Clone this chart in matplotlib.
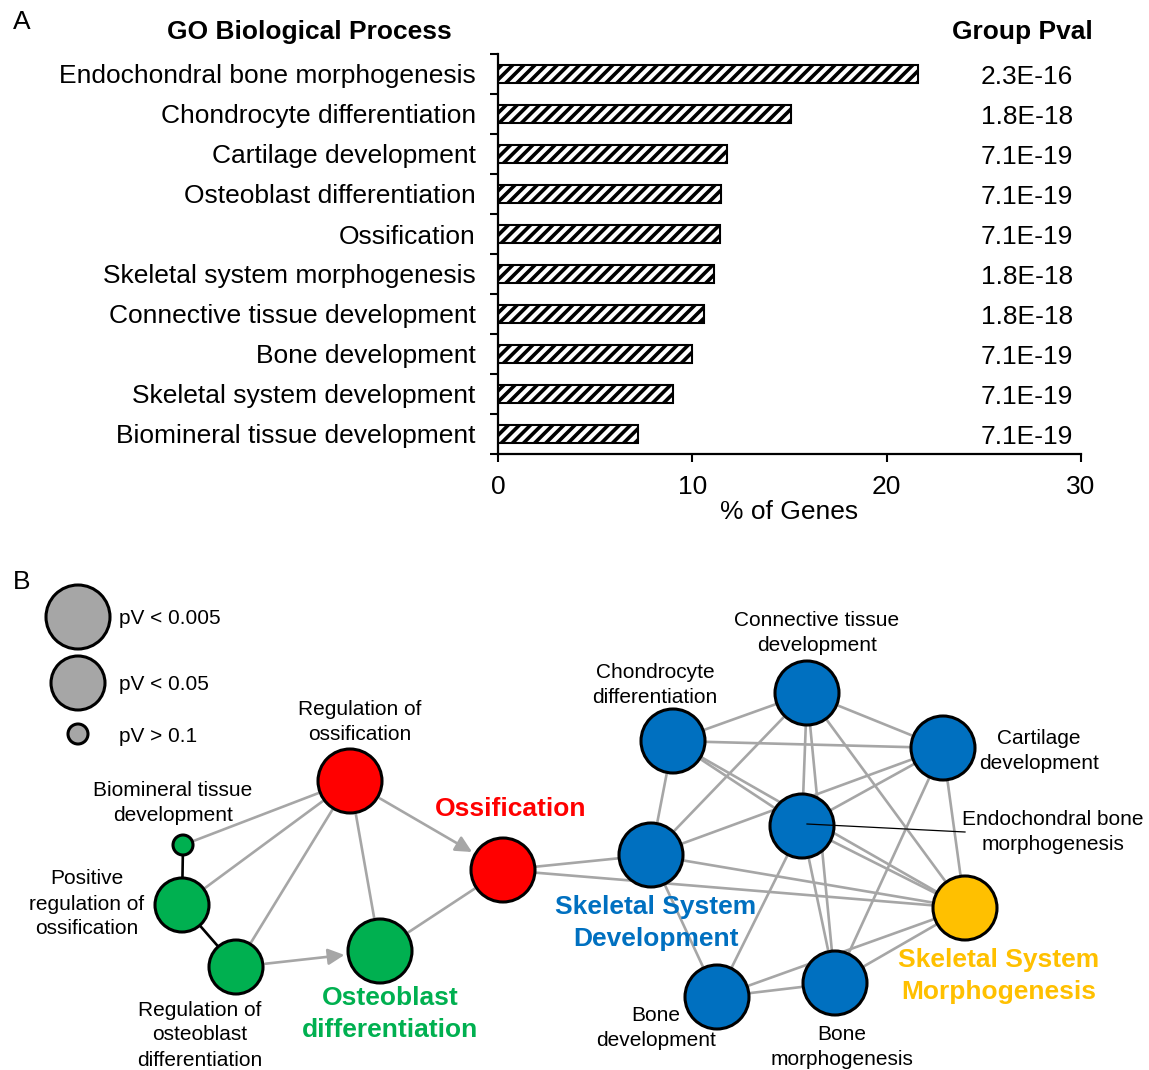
"""GO enrichment bar chart and term network for skeletal development genes"""
import numpy as np
import matplotlib
matplotlib.use('Agg')
import matplotlib.pyplot as plt
from matplotlib.patches import Circle, FancyArrowPatch

plt.rcParams['font.family'] = ['Liberation Sans', 'DejaVu Sans']
plt.rcParams['hatch.linewidth'] = 2.6

# Panel A: enriched GO biological process terms
terms = ["Endochondral bone morphogenesis", "Chondrocyte differentiation",
         "Cartilage development", "Osteoblast differentiation", "Ossification",
         "Skeletal system morphogenesis", "Connective tissue development",
         "Bone development", "Skeletal system development",
         "Biomineral tissue development"]
pct_genes = [21.6, 15.1, 11.8, 11.5, 11.4, 11.1, 10.6, 10.0, 9.0, 7.2]
group_pval = ["2.3E-16", "1.8E-18", "7.1E-19", "7.1E-19", "7.1E-19",
              "1.8E-18", "1.8E-18", "7.1E-19", "7.1E-19", "7.1E-19"]
xticks = [0, 10, 20, 30]

# Panel B: term network (node -> group colour / pV class)
nodes = ["biomineral", "pos_reg_oss", "reg_osteo_diff", "reg_oss",
         "osteo_diff", "ossification", "chondro", "connective", "cartilage",
         "endochondral", "skel_dev", "skel_morph", "bone_dev", "bone_morph"]
node_group = ["green", "green", "green", "red", "green", "red", "blue", "blue",
              "blue", "blue", "blue", "yellow", "blue", "blue"]
node_pclass = [2, 1, 1, 0, 0, 0, 0, 0, 0, 0, 0, 0, 0, 0]
edges = [("biomineral", "reg_oss"), ("pos_reg_oss", "reg_oss"),
         ("reg_osteo_diff", "reg_oss"), ("reg_oss", "osteo_diff"),
         ("osteo_diff", "ossification"), ("ossification", "skel_dev"),
         ("ossification", "skel_morph"),
         ("chondro", "connective"), ("chondro", "cartilage"),
         ("chondro", "endochondral"), ("chondro", "skel_dev"),
         ("chondro", "skel_morph"), ("connective", "skel_dev"),
         ("connective", "endochondral"), ("connective", "cartilage"),
         ("connective", "skel_morph"), ("connective", "bone_morph"),
         ("cartilage", "endochondral"), ("cartilage", "skel_dev"),
         ("cartilage", "bone_morph"), ("cartilage", "skel_morph"),
         ("endochondral", "skel_morph"), ("endochondral", "bone_dev"),
         ("endochondral", "bone_morph"), ("skel_dev", "skel_morph"),
         ("skel_dev", "bone_dev"), ("bone_dev", "bone_morph"),
         ("bone_dev", "skel_morph"), ("bone_morph", "skel_morph")]
strong_edges = [("biomineral", "pos_reg_oss"), ("pos_reg_oss", "reg_osteo_diff")]
directed_edges = [("reg_oss", "ossification"), ("reg_osteo_diff", "osteo_diff")]
legend_labels = ["pV < 0.005", "pV < 0.05", "pV > 0.1"]

# layout of the network in figure pixels (y downwards)
node_xy = {"biomineral": (183, 845), "pos_reg_oss": (182, 905),
           "reg_osteo_diff": (236, 967), "reg_oss": (350, 781),
           "osteo_diff": (380, 951), "ossification": (503, 870),
           "chondro": (673, 741), "connective": (807, 693),
           "cartilage": (943, 748), "endochondral": (802, 826),
           "skel_dev": (651, 855), "skel_morph": (965, 908),
           "bone_dev": (717, 997), "bone_morph": (835, 983)}
radius = [32, 27, 10]
colors = {"green": "#00B050", "red": "#FF0000", "blue": "#0070C0",
          "yellow": "#FFC000"}
edge_grey = "#A6A6A6"

W, H = 1149, 1070
fig = plt.figure(figsize=(W / 100, H / 100), dpi=100)

# overlay axes in pixel units for the network and free text
net = fig.add_axes([0, 0, 1, 1])
net.set_xlim(0, W)
net.set_ylim(H, 0)
net.axis('off')

# ---- panel A ----
ax = fig.add_axes([498 / W, 1 - 454 / H, 583 / W, 400 / H])
ypos = np.arange(len(terms))
ax.barh(ypos, pct_genes, height=0.44, color='white', edgecolor='black',
        hatch='///', linewidth=1.5)
ax.set_xlim(0, 30)
ax.set_ylim(len(terms) - 0.5, -0.5)
ax.set_xticks(xticks)
ax.set_yticks(ypos)
ax.set_yticklabels(terms, fontsize=19)
ax.set_yticks(np.arange(len(terms) + 1) - 0.5, minor=True)
ax.tick_params(axis='y', which='major', length=0, pad=16)
ax.tick_params(axis='y', which='minor', length=6, width=1.5, direction='out')
ax.tick_params(axis='x', length=6, width=1.5, labelsize=19, pad=9)
ax.set_xlabel("% of Genes", fontsize=19, labelpad=1)
for side in ('top', 'right'):
    ax.spines[side].set_visible(False)
for side in ('left', 'bottom'):
    ax.spines[side].set_linewidth(1.6)
for i, pv in enumerate(group_pval):
    ax.text(27.2, i + 0.07, pv, fontsize=19, ha='center', va='center',
            clip_on=False)

net.text(22, 22, "A", fontsize=19, ha='center', va='center')
net.text(309, 32, "GO Biological Process", fontsize=19, fontweight='bold',
         ha='center', va='center')
net.text(1022, 32, "Group Pval", fontsize=19, fontweight='bold',
         ha='center', va='center')

# ---- panel B ----
net.text(22, 582, "B", fontsize=19, ha='center', va='center')

# size legend
for k, (lab, ly) in enumerate(zip(legend_labels, [617, 683, 734])):
    net.add_patch(Circle((78, ly), radius[k], facecolor='#A6A6A6',
                         edgecolor='black', linewidth=2.2, zorder=3))
    net.text(119, ly + 2, lab, fontsize=15, ha='left', va='center')

for a, b in edges:
    (x0, y0), (x1, y1) = node_xy[a], node_xy[b]
    net.plot([x0, x1], [y0, y1], color=edge_grey, lw=1.9, zorder=1,
             solid_capstyle='butt')
for a, b in strong_edges:
    (x0, y0), (x1, y1) = node_xy[a], node_xy[b]
    net.plot([x0, x1], [y0, y1], color='black', lw=1.9, zorder=1)
for a, b in directed_edges:
    p0, p1 = np.array(node_xy[a], float), np.array(node_xy[b], float)
    u = (p1 - p0) / np.hypot(*(p1 - p0))
    r0 = radius[node_pclass[nodes.index(a)]]
    r1 = radius[node_pclass[nodes.index(b)]]
    net.add_patch(FancyArrowPatch(p0 + u * r0, p1 - u * (r1 + 1),
                                  arrowstyle='-|>,head_length=0.7,head_width=0.35',
                                  mutation_scale=14, color=edge_grey, lw=1.9,
                                  zorder=1))

for name, grp, pc in zip(nodes, node_group, node_pclass):
    net.add_patch(Circle(node_xy[name], radius[pc], facecolor=colors[grp],
                         edgecolor='black', linewidth=2.2, zorder=3))

# node labels
plain = [("Regulation of\nossification", 360, 722),
         ("Biomineral tissue\ndevelopment", 173, 803),
         ("Positive\nregulation of\nossification", 87, 904),
         ("Regulation of\nosteoblast\ndifferentiation", 200, 1035),
         ("Chondrocyte\ndifferentiation", 655, 685),
         ("Connective tissue\ndevelopment", 817, 633),
         ("Cartilage\ndevelopment", 1039, 751),
         ("Endochondral bone\nmorphogenesis", 1053, 832),
         ("Bone\ndevelopment", 656, 1028),
         ("Bone\nmorphogenesis", 842, 1047)]
for txt, tx, ty in plain:
    net.text(tx, ty, txt, fontsize=15, ha='center', va='center',
             linespacing=1.4, zorder=4)

bold = [("Ossification", 511, 809, "red"),
        ("Osteoblast\ndifferentiation", 390, 1014, "green"),
        ("Skeletal System\nDevelopment", 656, 923, "blue"),
        ("Skeletal System\nMorphogenesis", 999, 976, "yellow")]
for txt, tx, ty, grp in bold:
    net.text(tx, ty, txt, fontsize=19, fontweight='bold', color=colors[grp],
             ha='center', va='center', linespacing=1.4, zorder=4)

# leader line for the endochondral term
ex, ey = node_xy["endochondral"]
net.plot([ex + 5, 965], [ey - 2, ey + 6], color='black', lw=0.9, zorder=5)

fig.savefig("out.png", dpi=100)
